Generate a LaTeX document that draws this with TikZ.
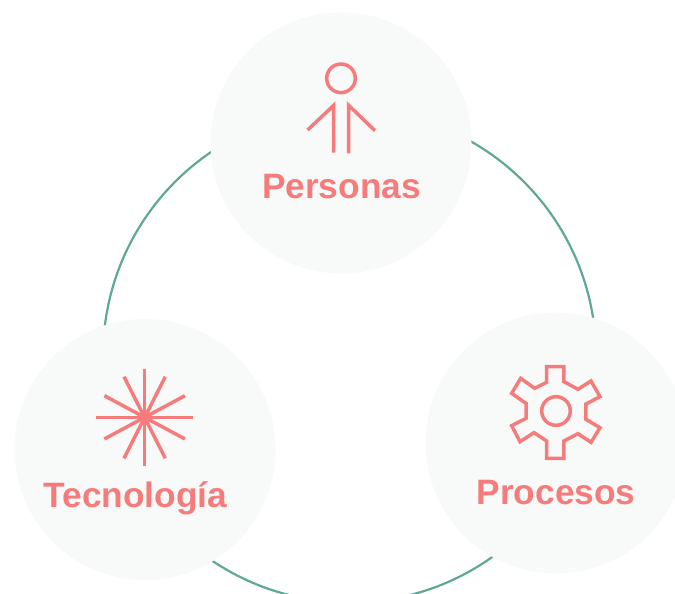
\documentclass[tikz,border=0pt]{standalone}
\usepackage{fontspec}
\setmainfont{Liberation Sans}
\definecolor{coral}{HTML}{F67C7C}
\definecolor{disc}{HTML}{F8FAF9}
\definecolor{ringc}{HTML}{5FA898}
\tikzset{
  discstyle/.style={circle,fill=disc,draw=none,inner sep=0pt,minimum size=261pt},
  icon/.style={draw=coral,line width=3.5pt,miter limit=4},
  label/.style={text=coral,font=\fontsize{35.3}{40}\selectfont\bfseries,inner sep=0pt,anchor=base}
}
\begin{document}
\begin{tikzpicture}[x=1pt,y=-1pt]
\useasboundingbox (0,0) rectangle (675,594);
\clip (0,0) rectangle (675,594);
\fill[white] (0,0) rectangle (675,594);
\coordinate (ringcentre) at (349.5,356);
\draw[ringc,line width=2.2pt] (ringcentre) circle[radius=246.5pt];
\node[discstyle] (top) at (341,143) {};
\node[discstyle] (left) at (145,449.5) {};
\node[discstyle] (right) at (556,443) {};
% person
\begin{scope}[shift={(290,50)},x=0.3333pt,y=-0.3333pt]
\draw[icon] (153,85) circle[radius=14.3pt];
\draw[icon] (53,240) -- (131,166) -- (131,308);
\draw[icon] (255,242) -- (176,166) -- (176,310);
\end{scope}
% star
\begin{scope}[shift={(90,360)},x=0.3333pt,y=-0.3333pt]
\draw[icon] (18,172) -- (310,172);
\draw[icon] (164,27) -- (164,318);
\draw[icon] (102,50) -- (226,295);
\draw[icon] (226,50) -- (102,295);
\draw[icon] (43,107) -- (285,237);
\draw[icon] (285,107) -- (43,237);
\end{scope}
% gear
\begin{scope}[shift={(500,355)},x=0.3333pt,y=-0.3333pt]
\draw[icon] (168,168) circle[radius=14.3pt];
\draw[icon] (140,35) -- (192,35) -- (192,80) -- (234,103) -- (273,78) -- (300,125) -- (258,147) -- (258,193) -- (300,218) -- (273,262) -- (234,236) -- (192,258) -- (192,310) -- (140,310) -- (140,258) -- (102,233) -- (60,260) -- (35,212) -- (78,190) -- (78,145) -- (35,115) -- (62,70) -- (104,100) -- (140,82) -- cycle;
\end{scope}
\node[label] (personas) at (341.5,198) {Personas};
\node[label] (tecnologia) at (135.5,507) {Tecnología};
\node[label] (procesos) at (556,504) {Procesos};
\end{tikzpicture}
\end{document}
